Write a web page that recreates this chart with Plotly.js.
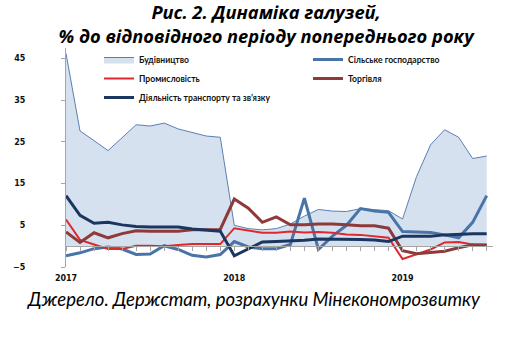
<!DOCTYPE html>
<html>
<head>
<meta charset="utf-8">
<script src="https://cdn.plot.ly/plotly-3.0.1.min.js"></script>
<style>html,body{margin:0;padding:0;background:#fff;}#chart{width:528px;height:347px;}</style>
</head>
<body>
<div id="chart"></div>
<script>
// Monthly categories, Jan 2017 – Jul 2019
const months = ['2017-01','2017-02','2017-03','2017-04','2017-05','2017-06','2017-07','2017-08','2017-09','2017-10','2017-11','2017-12',
                '2018-01','2018-02','2018-03','2018-04','2018-05','2018-06','2018-07','2018-08','2018-09','2018-10','2018-11','2018-12',
                '2019-01','2019-02','2019-03','2019-04','2019-05','2019-06','2019-07'];
const yearLabels = {'2017-01':'2017','2018-01':'2018','2019-01':'2019'};

const seriesNames = ['Будівництво','Сільське господарство','Промисловість','Торгівля','Діяльність транспорту та зв’язку'];

const construction = [46.2,27.6,25.3,22.9,26.0,29.1,28.8,29.5,28.1,27.3,26.4,26.1,
                      5.0,4.2,3.9,4.2,5.3,7.2,8.8,8.4,8.3,9.0,8.7,8.5,
                      6.5,16.7,24.3,27.9,26.1,21.0,21.6];
const agriculture = [-2.3,-1.6,-0.6,-0.2,-0.7,-2.0,-1.9,0.1,-0.8,-2.2,-2.6,-2.0,
                     1.1,-0.2,-0.6,-0.6,0.4,11.5,-0.8,2.4,5.0,9.0,8.4,8.1,
                     3.5,3.4,3.3,2.7,2.0,5.7,12.1];
const industry = [6.4,1.5,0.4,-0.7,-0.7,0.1,0.1,0.0,0.3,0.5,0.5,0.5,
                  4.3,3.7,3.2,3.2,3.5,3.3,3.4,3.2,2.8,2.7,2.4,2.0,
                  -3.1,-2.0,-0.8,0.9,1.0,0.4,0.4];
const trade = [3.4,0.9,3.2,2.0,3.0,3.7,3.6,3.6,3.6,3.9,4.0,4.0,
               11.3,9.1,5.7,7.0,5.1,5.1,5.3,5.3,5.1,4.9,4.9,4.3,
               -1.1,-1.8,-1.5,-1.2,-0.4,0.3,0.2];
const transport = [12.1,7.4,5.5,5.7,5.1,4.7,4.6,4.6,4.6,4.1,3.8,3.6,
                   -2.3,-0.7,1.0,1.1,1.2,1.4,1.7,1.7,1.7,1.6,1.5,1.1,
                   2.4,2.4,2.4,2.7,2.9,3.0,3.0];

const yTicks = [-5,5,15,25,35,45];
const yMin = -5, yMax = 47.5;

const legendFont = {family:'Lato, "Liberation Sans", sans-serif', size:8.6, color:'#111', weight:'bold'};

const traces = [
  {x:months, y:construction, name:seriesNames[0], type:'scatter', mode:'lines', fill:'tozeroy',
   fillcolor:'#d6e1f0', line:{color:'#5b7fb2', width:1}, legend:'legend'},
  {x:months, y:agriculture, name:seriesNames[1], type:'scatter', mode:'lines',
   line:{color:'#4a74a8', width:3}, legend:'legend2'},
  {x:months, y:industry, name:seriesNames[2], type:'scatter', mode:'lines',
   line:{color:'#e0282c', width:2}, legend:'legend'},
  {x:months, y:trade, name:seriesNames[3], type:'scatter', mode:'lines',
   line:{color:'#8e3a3a', width:3}, legend:'legend2'},
  {x:months, y:transport, name:seriesNames[4], type:'scatter', mode:'lines',
   line:{color:'#1b365f', width:3}, legend:'legend'}
];

const layout = {
  width:528, height:347,
  margin:{l:66, r:35, t:48, b:80, pad:0, autoexpand:false},
  paper_bgcolor:'#fff', plot_bgcolor:'rgba(0,0,0,0)',
  showlegend:true,
  title:{text:'Рис. 2. Динаміка галузей,<br>% до відповідного періоду попереднього року',
         font:{family:'"Open Sans", Lato, sans-serif', size:18.3, color:'#000', weight:'bold', style:'italic'},
         x:0.504, xanchor:'center', y:1 - 19/347, yanchor:'middle', yref:'container', automargin:false},
  xaxis:{type:'category', range:[0, 30.45], anchor:'free', position:(0 - yMin)/(yMax - yMin),
         showline:true, linecolor:'#a6a6a6', linewidth:1, showgrid:false, zeroline:false,
         ticks:'outside', ticklen:4, tickcolor:'#a6a6a6', tickangle:0, automargin:false,
         tickvals:months, ticktext:months.map(m => yearLabels[m] || ''),
         ticklabelstandoff:20,
         tickfont:{family:'"DejaVu Sans", sans-serif', size:8, color:'#111', weight:'bold'}},
  yaxis:{range:[yMin, yMax], tickvals:yTicks, showline:true, linecolor:'#a6a6a6', linewidth:1,
         ticks:'outside', ticklen:4, tickcolor:'#a6a6a6', showgrid:false, zeroline:false, automargin:false,
         ticklabelstandoff:34,
         tickfont:{family:'"DejaVu Sans", sans-serif', size:8, color:'#111', weight:'bold'}},
  legend:{x:99/528, xref:'container', xanchor:'left', y:1-45/347, yref:'container', yanchor:'top',
          bgcolor:'rgba(0,0,0,0)', font:legendFont, itemwidth:30, tracegroupgap:0, traceorder:'normal'},
  legend2:{x:308/528, xref:'container', xanchor:'left', y:1-45/347, yref:'container', yanchor:'top',
          bgcolor:'rgba(0,0,0,0)', font:legendFont, itemwidth:30, tracegroupgap:0, traceorder:'normal'},
  annotations:[{text:'Джерело. Держстат, розрахунки Мінекономрозвитку', xref:'paper', yref:'paper',
                x:(254-66)/427, y:-0.144, xanchor:'center', yanchor:'middle', showarrow:false,
                font:{family:'Lato, "Liberation Sans", sans-serif', size:18.5, color:'#000', style:'italic'}}]
};

Plotly.newPlot('chart', traces, layout, {displayModeBar:false, staticPlot:true});
</script>
</body>
</html>
